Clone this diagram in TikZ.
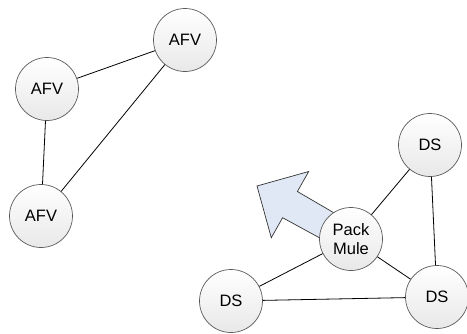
\documentclass[tikz,border=0pt]{standalone}
\usepackage{fontspec}
\setmainfont{Liberation Sans}
\definecolor{movefill}{RGB}{224,232,246}
\begin{document}
\begin{tikzpicture}[x=1pt,y=-1pt,
  unit/.style={circle, draw=black!65, line width=0.7pt, minimum size=63pt, inner sep=0pt,
    top color=white, bottom color=black!9, font=\fontsize{16.5}{19}\selectfont, align=center},
  link/.style={draw=black, line width=0.8pt},
  move/.style={draw=black!80, line width=0.7pt, line join=miter}]
\useasboundingbox (0,0) rectangle (467,333);

% direction of travel for the pack mule
\fill[movefill]
  (357.9,226.8) -- (297.4,191.5) -- (308.7,171.5) -- (257,186)
  -- (271.3,237.7) -- (282.6,217.7) -- (344.1,251.2) -- cycle;
\draw[move]
  (357.9,226.8) -- (297.4,191.5) -- (308.7,171.5) -- (257,186)
  -- (271.3,237.7) -- (282.6,217.7) -- (344.1,251.2);

% armoured vehicles
\node[unit] (afvt) at (185,40) {AFV};
\node[unit] (afvl) at (47,89) {AFV};
\node[unit] (afvb) at (41,216) {AFV};

% dismounted soldiers and the pack mule
\node[unit] (dst) at (430,145) {DS};
\node[unit] (mule) at (351,239) {Pack\\Mule};
\node[unit] (dsr) at (437,297) {DS};
\node[unit] (dsl) at (231,301) {DS};

\draw[link] (afvt) -- (afvl);
\draw[link] (afvt) -- (afvb);
\draw[link] (afvl) -- (afvb);

\draw[link] (dst) -- (mule);
\draw[link] (dst) -- (dsr);
\draw[link] (mule) -- (dsl);
\draw[link] (mule) -- (dsr);
\draw[link] (dsl) -- (dsr);
\end{tikzpicture}
\end{document}
